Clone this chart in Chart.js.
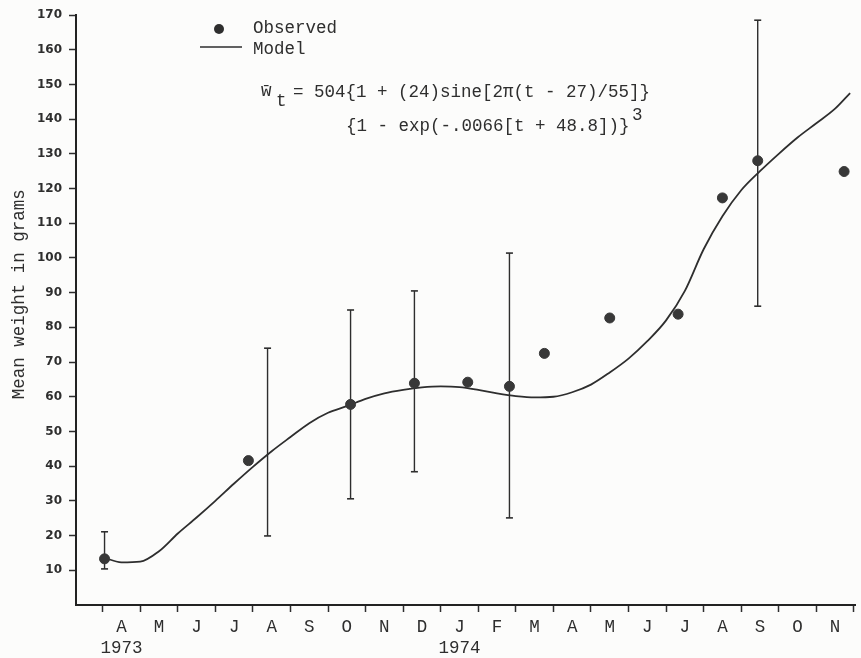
<!DOCTYPE html>
<html>
<head>
<meta charset="utf-8">
<script src="https://cdn.jsdelivr.net/npm/chart.js@4/dist/chart.umd.min.js"></script>
<style>
  body { margin: 0; background: #fcfcfb; }
  canvas { display: block; }
</style>
</head>
<body>
<canvas id="growthChart" width="861" height="658"></canvas>
<script>
// months counted from 1 April 1973
const monthLetters = ['A', 'M', 'J', 'J', 'A', 'S', 'O', 'N', 'D', 'J', 'F', 'M', 'A', 'M', 'J', 'J', 'A', 'S', 'O', 'N'];
const yearAt = [0, 9];
const yearNames = ['1973', '1974'];

// observed mean weights (g)
const obsMonth = [0.05, 3.88, 6.6, 8.3, 9.72, 10.83, 11.76, 13.5, 15.32, 16.5, 17.44, 19.74];
const obsWeight = [13.3, 41.6, 57.8, 63.9, 64.2, 63.0, 72.5, 82.7, 83.8, 117.3, 128.0, 124.9];

// vertical ranges drawn around some of the samples
const errMonth = [0.05, 4.39, 6.6, 8.3, 10.83, 17.44];
const errLow = [10.4, 19.9, 30.6, 38.4, 25.1, 86.1];
const errHigh = [21.1, 74.0, 85.0, 90.5, 101.4, 168.5];

// model curve
const modelMonth = [0, 0.5, 1, 1.5, 2, 2.5, 3, 3.5, 4, 4.5, 5, 5.5, 6, 6.5, 7, 7.5, 8, 8.5, 9, 9.5, 10,
  10.5, 11, 11.5, 12, 12.5, 13, 13.5, 14, 14.5, 15, 15.5, 16, 16.5, 17, 17.5, 18, 18.5, 19, 19.5, 19.9];
const modelWeight = [13.8, 12.3, 12.5, 15.5, 20.6, 25.2, 30.0, 35.0, 39.8, 44.3, 48.4, 52.4, 55.4, 57.3, 59.4, 61.0,
  62.0, 62.7, 63.0, 62.8, 62.0, 61.0, 60.2, 59.8, 60.0, 61.3, 63.5, 67.0, 71.0, 76.0, 82.0, 90.5, 102.5,
  112.0, 119.5, 125.0, 130.0, 134.7, 138.8, 143.0, 147.5];

const ink = '#2e2e2e';
const mono = '"Liberation Mono", "DejaVu Sans Mono", monospace';
const typeSize = 17.5;

const errPoints = [];
errMonth.forEach((m, i) => {
    errPoints.push({ x: m, y: errLow[i] }, { x: m, y: errHigh[i] }, { x: m, y: null });
});

const paperBg = {
    id: 'paperBg',
    beforeDraw(chart) {
        const c = chart.ctx;
        c.save();
        c.fillStyle = '#fcfcfb';
        c.fillRect(0, 0, chart.width, chart.height);
        c.restore();
    }
};

// legend and equation typed in the upper left
const notes = {
    id: 'notes',
    afterDraw(chart) {
        const c = chart.ctx;
        c.save();
        c.fillStyle = ink;
        c.strokeStyle = ink;
        c.beginPath();
        c.arc(219, 29, 5, 0, Math.PI * 2);
        c.fill();
        c.lineWidth = 1.5;
        c.beginPath();
        c.moveTo(200, 47);
        c.lineTo(242, 47);
        c.stroke();

        c.font = typeSize + 'px ' + mono;
        c.textBaseline = 'alphabetic';
        c.fillText(chart.data.datasets[0].label, 253, 33);
        c.fillText(chart.data.datasets[1].label, 253, 54);

        c.fillText('w\u0304', 261, 96);
        c.fillText('t', 276, 106);
        c.fillText('= 504{1 + (24)sine[2\u03c0(t - 27)/55]}', 293, 97);
        c.fillText('{1 - exp(-.0066[t + 48.8])}', 346, 131);
        c.fillText('3', 632, 120);
        c.restore();
    }
};

new Chart(document.getElementById('growthChart'), {
    type: 'scatter',
    data: {
        datasets: [{
            label: 'Observed',
            data: obsMonth.map((m, i) => ({ x: m, y: obsWeight[i] })),
            pointRadius: 5,
            pointBackgroundColor: '#383838',
            pointBorderColor: '#383838',
            order: 0
        }, {
            label: 'Model',
            type: 'line',
            data: modelMonth.map((m, i) => ({ x: m, y: modelWeight[i] })),
            borderColor: ink,
            borderWidth: 1.8,
            pointRadius: 0,
            cubicInterpolationMode: 'monotone',
            fill: false,
            order: 1
        }, {
            label: 'range',
            type: 'line',
            data: errPoints,
            borderColor: ink,
            borderWidth: 1.4,
            pointStyle: 'line',
            pointRadius: 3.5,
            pointBorderWidth: 1.6,
            pointBorderColor: ink,
            spanGaps: false,
            fill: false,
            order: 2
        }]
    },
    options: {
        responsive: false,
        animation: false,
        layout: { padding: { left: 9, right: 0, top: 15, bottom: 0 } },
        plugins: {
            legend: { display: false },
            tooltip: { enabled: false }
        },
        scales: {
            x: {
                type: 'linear',
                min: -0.71,
                max: 20.03,
                afterBuildTicks: axis => {
                    const t = [];
                    for (let k = 0; k <= 20; k++) {
                        t.push({ value: k });
                        if (k < 20) t.push({ value: k + 0.5 });
                    }
                    axis.ticks = t;
                },
                afterFit: scale => { scale.height = 53; },
                ticks: {
                    autoSkip: false,
                    maxRotation: 0,
                    padding: 5,
                    color: ink,
                    font: { family: mono, size: typeSize },
                    callback: value => {
                        if (Number.isInteger(value)) return '';
                        const k = Math.floor(value);
                        const y = yearAt.indexOf(k);
                        return y >= 0 ? [monthLetters[k], yearNames[y]] : monthLetters[k];
                    }
                },
                grid: {
                    drawOnChartArea: false,
                    tickLength: 7,
                    tickWidth: 1.5,
                    tickColor: ctx => (ctx.tick && Number.isInteger(ctx.tick.value)) ? ink : 'rgba(0,0,0,0)'
                },
                border: { color: '#222', width: 2 }
            },
            y: {
                min: 0,
                max: 170,
                afterFit: scale => { scale.width = 67; },
                ticks: {
                    stepSize: 10,
                    padding: 7,
                    color: ink,
                    font: { family: '"DejaVu Sans"', size: 12, weight: 'bold' },
                    callback: v => v === 0 ? '' : v
                },
                grid: {
                    drawOnChartArea: false,
                    tickLength: 7,
                    tickWidth: 1.5,
                    tickColor: ctx => (ctx.tick && ctx.tick.value === 0) ? 'rgba(0,0,0,0)' : ink
                },
                border: { color: '#222', width: 2 },
                title: {
                    display: true,
                    // leading spaces lift the typed title a little above the axis centre
                    text: '   Mean weight in grams',
                    color: ink,
                    padding: 0,
                    font: { family: mono, size: typeSize }
                }
            }
        }
    },
    plugins: [paperBg, notes]
});
</script>
</body>
</html>
